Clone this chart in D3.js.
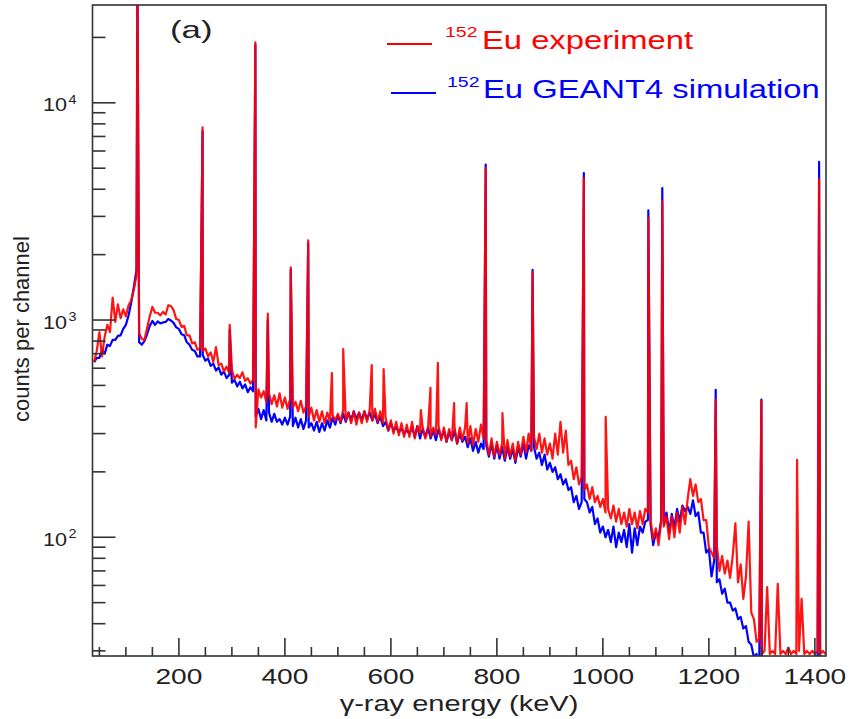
<!DOCTYPE html>
<html>
<head>
<meta charset="utf-8">
<script src="https://cdn.jsdelivr.net/npm/d3@7"></script>
<style>
  html, body { margin: 0; padding: 0; background: #fff; }
  svg { display: block; }
  text { font-family: "Liberation Sans", Arial, Helvetica, sans-serif; }
</style>
</head>
<body>
<svg id="chart" width="852" height="719"></svg>
<script>
// ---------------- DATA ----------------
// Continuum: one value per 5 keV channel, starting at 40 keV
const channelStart = 40;
const channelWidth = 5;

// 152Eu experiment (red) continuum
const experiment = [
  // 40 - 135
  640, 720, 880, 680, 840, 950, 880, 1270, 980, 1180, 1020, 1120, 1040, 1170, 1230, 1380, 1600, 870, 820, 810,
  // 140 - 235
  920, 1040, 1150, 1080, 1080, 1050, 1090, 1060, 1170, 1160, 1110, 1010, 1000, 930, 940, 850, 850, 780, 790, 730,
  // 240 - 335
  740, 720, 740, 680, 710, 640, 750, 620, 630, 580, 610, 570, 590, 535, 560, 540, 575, 525, 540, 510,
  // 340 - 435
  530, 320, 480, 440, 470, 420, 460, 410, 450, 400, 460, 395, 440, 390, 435, 395, 420, 380, 425, 375,
  // 440 - 535
  400, 360, 395, 345, 385, 340, 380, 335, 375, 340, 365, 345, 370, 340, 385, 345, 375, 335, 380, 330,
  // 540 - 635
  375, 335, 380, 340, 385, 345, 390, 340, 380, 335, 355, 310, 345, 300, 340, 295, 335, 290, 330, 290,
  // 640 - 735
  340, 285, 325, 300, 320, 285, 315, 290, 320, 295, 325, 280, 320, 275, 315, 280, 325, 270, 320, 280,
  // 740 - 835
  320, 270, 325, 265, 315, 275, 330, 285, 280, 240, 285, 235, 275, 240, 270, 230, 280, 235, 270, 225,
  // 840 - 935
  275, 240, 290, 245, 300, 250, 290, 255, 300, 245, 285, 240, 270, 230, 300, 240, 340, 245, 310, 215,
  // 940 - 1035
  225, 185, 210, 175, 190, 165, 175, 150, 170, 145, 155, 138, 150, 130, 135, 122, 140, 118, 135, 115,
  // 1040 - 1135
  130, 112, 135, 115, 130, 110, 132, 115, 135, 130, 120, 98, 110, 92, 118, 112, 125, 98, 125, 100,
  // 1140 - 1235
  130, 105, 138, 115, 150, 185, 155, 175, 145, 150, 120, 120, 90, 85, 80, 92, 70, 82, 68, 78,
  // 1240 - 1335
  65, 82, 116, 62, 75, 52, 66, 118, 45, 42, 33, 34, 29, 30, 59, 29, 30, 29, 61, 29,
  // 1340 - 1420
  30, 29, 31, 29, 30, 29, 30, 52, 29, 30, 29, 30, 29, 30, 29, 30, 29
];

// 152Eu GEANT4 simulation (blue) continuum
const simulation = [
  // 40 - 135
  640, 670, 670, 730, 700, 770, 760, 810, 810, 845, 850, 910, 950, 1050, 1200, 1420, 1700, 790, 770, 800,
  // 140 - 235
  860, 940, 990, 950, 985, 965, 975, 980, 1010, 995, 970, 925, 910, 860, 850, 790, 770, 730, 720, 680,
  // 240 - 335
  680, 690, 650, 665, 615, 630, 585, 605, 560, 580, 540, 560, 515, 530, 495, 520, 485, 505, 465, 490,
  // 340 - 435
  470, 360, 390, 350, 385, 345, 375, 340, 370, 340, 350, 330, 355, 330, 360, 325, 355, 320, 350, 315,
  // 440 - 535
  345, 320, 335, 310, 340, 305, 335, 310, 345, 320, 355, 330, 365, 335, 370, 340, 375, 345, 380, 350,
  // 540 - 635
  375, 345, 380, 350, 375, 345, 370, 335, 360, 325, 340, 310, 335, 310, 320, 305, 315, 300, 310, 300,
  // 640 - 735
  320, 290, 325, 285, 315, 290, 320, 285, 310, 280, 315, 285, 310, 275, 305, 280, 310, 270, 300, 275,
  // 740 - 835
  290, 260, 285, 250, 275, 245, 270, 255, 265, 235, 270, 230, 265, 230, 260, 225, 260, 230, 255, 220,
  // 840 - 935
  260, 235, 270, 230, 265, 250, 260, 230, 245, 215, 240, 205, 220, 200, 210, 185, 195, 175, 185, 165,
  // 940 - 1035
  170, 145, 155, 135, 145, 150, 145, 130, 138, 115, 122, 105, 112, 100, 108, 95, 112, 90, 105, 95,
  // 1040 - 1135
  108, 90, 115, 85, 110, 92, 112, 105, 118, 120, 115, 92, 105, 100, 120, 115, 130, 105, 128, 110,
  // 1140 - 1235
  135, 118, 140, 132, 138, 128, 148, 125, 130, 105, 105, 85, 88, 66, 78, 62, 64, 55, 58, 50,
  // 1240 - 1335
  50, 46, 47, 42, 43, 38, 39, 33, 32, 28, 29, 25, 20, 18, 18, 18, 18, 18, 18, 18,
  // 1340 - 1420
  18, 18, 18, 18, 18, 18, 18, 18, 18, 18, 18, 18, 18, 18, 18, 18, 18
];

// Photo-peaks (energy in keV, peak counts)
const expPeakEnergy = [121.8, 244.7, 295.9, 344.3, 367.8, 411.1, 444.0, 488.7, 510.0, 563.9, 586.3, 656.5, 674.7, 688.7, 719.3, 743.0, 778.9, 810.5, 867.4, 964.1, 1005.3, 1085.8, 1112.1, 1212.9, 1299.1, 1366.4, 1408.0];
const expPeakCounts = [40000, 7700, 950, 19000, 1070, 1750, 2330, 570, 735, 620, 595, 385, 487, 635, 415, 415, 5000, 373, 1660, 4500, 358, 2950, 3530, 430, 425, 227, 4450];
const simPeakEnergy = [121.8, 244.7, 295.9, 344.3, 367.8, 411.1, 444.0, 778.9, 867.4, 964.1, 1085.8, 1112.1, 1212.9, 1299.1, 1408.0];
const simPeakCounts = [40000, 7400, 900, 18500, 1000, 1700, 2250, 5200, 1700, 4750, 3200, 4050, 477, 430, 5350];

// Axis ticks and labels
const xMajorTicks = [200, 400, 600, 800, 1000, 1200, 1400];
const xMinorTicks = [50, 100, 150, 250, 300, 350, 450, 500, 550, 650, 700, 750, 850, 900, 950, 1050, 1100, 1150, 1250, 1300, 1350];
const yMajorTicks = [100, 1000, 10000];
const yMajorBase = ["10", "10", "10"];
const yMajorExp = ["2", "3", "4"];
const yMinorTicks = [30, 40, 50, 60, 70, 80, 90, 200, 300, 400, 500, 600, 700, 800, 900,
                     2000, 3000, 4000, 5000, 6000, 7000, 8000, 9000, 20000];

const legendIsotope = "152";
const legendLabels = ["Eu experiment", "Eu GEANT4 simulation"];
const panelLabel = "(a)";
const xTitle = "\u03b3-ray energy (keV)";
const yTitle = "counts per channel";

// ---------------- CHART ----------------
const svg = d3.select("#chart");
const L = 92.5, R = 826, T = 5, B = 656;
const x = d3.scaleLinear().domain([37, 1421]).range([L, R]);
const y = d3.scaleLog().domain([28.4, 28200]).range([B, T]);

function buildSeries(cont, pe, pc) {
  const pts = cont.map((v, i) => [channelStart + i * channelWidth, v]);
  pe.forEach((e, i) => pts.push([e, pc[i]]));
  pts.sort((a, b) => a[0] - b[0]);
  return pts;
}
const expSeries = buildSeries(experiment, expPeakEnergy, expPeakCounts);
const simSeries = buildSeries(simulation, simPeakEnergy, simPeakCounts);

svg.append("defs").append("clipPath").attr("id", "plotclip")
  .append("rect").attr("x", L).attr("y", T).attr("width", R - L).attr("height", B - T);

const line = d3.line().x(d => x(d[0])).y(d => y(d[1]));
const plot = svg.append("g").attr("clip-path", "url(#plotclip)");
plot.append("path").datum(simSeries).attr("d", line)
  .attr("fill", "none").attr("stroke", "#0000ff").attr("stroke-width", 2.2).attr("stroke-linejoin", "round");
plot.append("path").datum(expSeries).attr("d", line)
  .attr("fill", "none").attr("stroke", "#ff0000").attr("stroke-width", 2.2).attr("stroke-linejoin", "round")
  .attr("stroke-opacity", 0.92);

// frame
const axisColor = "#333";
svg.append("rect").attr("x", L).attr("y", T).attr("width", R - L).attr("height", B - T)
  .attr("fill", "none").attr("stroke", axisColor).attr("stroke-width", 1.6);

// x ticks
const gx = svg.append("g").attr("stroke", axisColor).attr("stroke-width", 1.6);
xMajorTicks.forEach(v => gx.append("line").attr("x1", x(v)).attr("x2", x(v)).attr("y1", B).attr("y2", B - 18));
xMinorTicks.forEach(v => gx.append("line").attr("x1", x(v)).attr("x2", x(v)).attr("y1", B).attr("y2", B - 9));
// y ticks
yMajorTicks.forEach(v => gx.append("line").attr("x1", L).attr("x2", L + 23).attr("y1", y(v)).attr("y2", y(v)));
yMinorTicks.forEach(v => gx.append("line").attr("x1", L).attr("x2", L + 13).attr("y1", y(v)).attr("y2", y(v)));

function stretchedText(g, tx, ty, sx, str, size, anchor, color) {
  return g.append("text")
    .attr("transform", `translate(${tx},${ty}) scale(${sx},1)`)
    .attr("text-anchor", anchor)
    .attr("font-size", size)
    .attr("fill", color)
    .text(str);
}

const labels = svg.append("g");
xMajorTicks.forEach(v => stretchedText(labels, x(v), 684, 1.28, String(v), 22, "middle", "#222"));

yMajorTicks.forEach((v, i) => {
  stretchedText(labels, 67, y(v) + 8.5, 1.2, yMajorBase[i], 18, "end", "#222");
  stretchedText(labels, 68.5, y(v) + 1, 1.2, yMajorExp[i], 12, "start", "#222");
});

// axis titles
stretchedText(labels, 459, 711, 1.32, xTitle, 22, "middle", "#222");
labels.append("text")
  .attr("transform", "translate(29,329) rotate(-90)")
  .attr("text-anchor", "middle")
  .attr("font-size", 22)
  .attr("fill", "#222")
  .text(yTitle);

// panel label
stretchedText(labels, 170, 38, 1.45, panelLabel, 24, "start", "#222");

// legend
const legendColors = ["#ff0000", "#0000ff"];
const legendRows = [
  {lx1: 387, lx2: 432, ly: 44, sx: 445, sy: 37.3, tx: 482, ty: 49.3},
  {lx1: 391, lx2: 436, ly: 93, sx: 447, sy: 87.3, tx: 483, ty: 98.3}
];
legendRows.forEach((r, i) => {
  svg.append("line").attr("x1", r.lx1).attr("x2", r.lx2).attr("y1", r.ly).attr("y2", r.ly)
    .attr("stroke", legendColors[i]).attr("stroke-width", 2);
  stretchedText(svg, r.sx, r.sy, 1.3, legendIsotope, 15, "start", legendColors[i]);
  stretchedText(svg, r.tx, r.ty, 1.26, legendLabels[i], 26, "start", legendColors[i]);
});
</script>
</body>
</html>
